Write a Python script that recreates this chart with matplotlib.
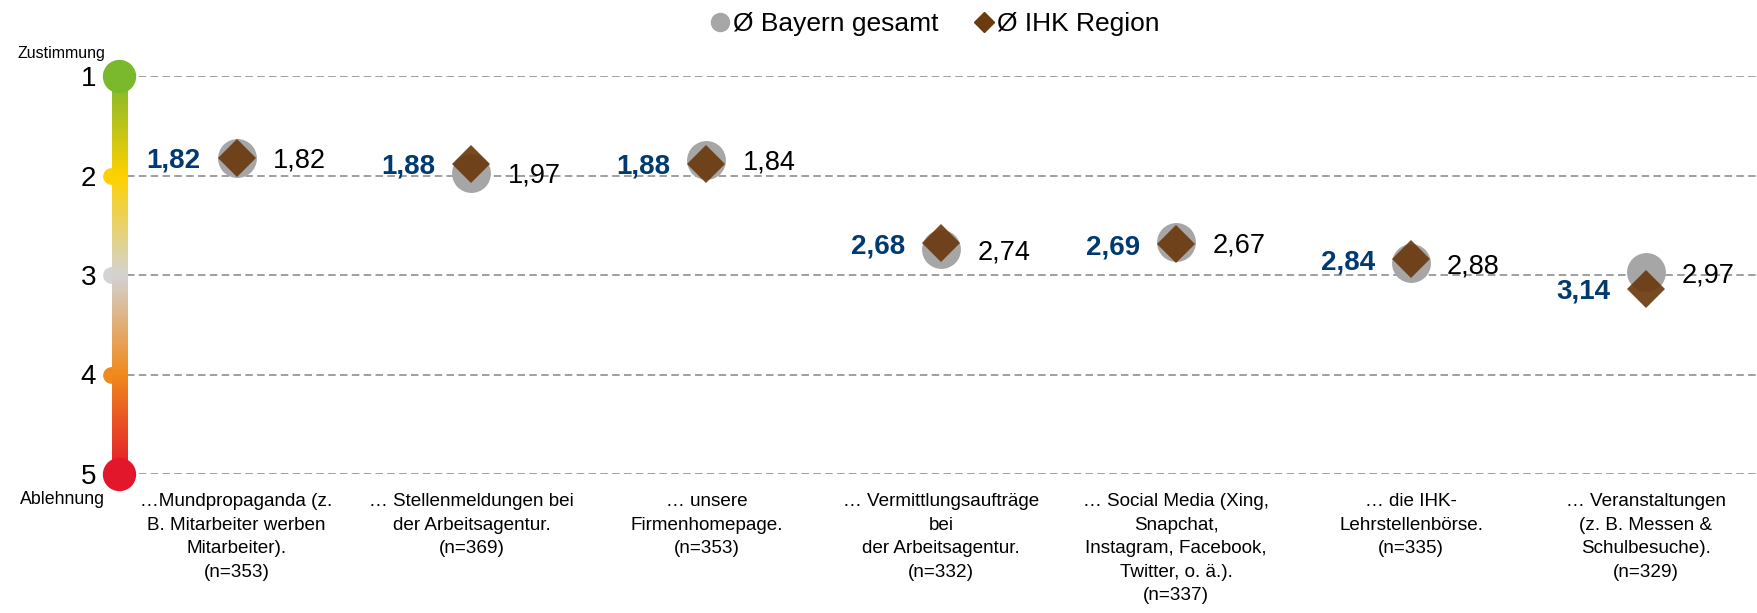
import numpy as np
import matplotlib.pyplot as plt
from matplotlib.colors import LinearSegmentedColormap
from matplotlib.lines import Line2D

plt.rcParams['font.family'] = ['Liberation Sans', 'DejaVu Sans']

categories = [
    "…Mundpropaganda (z.\nB. Mitarbeiter werben\nMitarbeiter).\n(n=353)",
    "… Stellenmeldungen bei\nder Arbeitsagentur.\n(n=369)",
    "… unsere\nFirmenhomepage.\n(n=353)",
    "… Vermittlungsaufträge\nbei\nder Arbeitsagentur.\n(n=332)",
    "… Social Media (Xing,\nSnapchat,\nInstagram, Facebook,\nTwitter, o. ä.).\n(n=337)",
    "… die IHK-\nLehrstellenbörse.\n(n=335)",
    "… Veranstaltungen\n(z. B. Messen &\nSchulbesuche).\n(n=329)",
]
bayern = [1.82, 1.97, 1.84, 2.74, 2.67, 2.88, 2.97]
ihk = [1.82, 1.88, 1.88, 2.68, 2.69, 2.84, 3.14]
scale_ticks = [1, 2, 3, 4, 5]

W, H = 1758, 613
fig = plt.figure(figsize=(W / 100, H / 100), dpi=100)
ax = fig.add_axes([0, (H - 474) / H, 1, (474 - 76) / H])

x0, dx = 236.6, 234.9
xmin, xmax = -x0 / dx, (W - x0) / dx
ax.set_xlim(xmin, xmax)
ax.set_ylim(5, 1)


def px(p):
    # figure pixel -> data x
    return xmin + (xmax - xmin) * p / W


for s in ax.spines.values():
    s.set_visible(False)
ax.set_yticks([])

# dashed grid lines
ax.hlines(scale_ticks, px(127), xmax, colors='#8f8f8f', linewidth=1.2,
          linestyles=(0, (4.5, 2.6)), zorder=1)

# gradient bar
cmap = LinearSegmentedColormap.from_list('scale', [
    (0.0, '#7ab82e'), (0.25, '#ffd100'), (0.5, '#d3d3d3'),
    (0.75, '#f08a1c'), (1.0, '#e3172c')])
grad = np.linspace(0, 1, 256).reshape(-1, 1)
ax.imshow(grad, cmap=cmap, aspect='auto', origin='upper',
          extent=[px(111.5), px(127), 5, 1], zorder=2, clip_on=False)
ax.set_xlim(xmin, xmax)
ax.set_ylim(5, 1)

ax.plot([px(119.3)], [1], 'o', ms=23, color='#7ab82e', zorder=3, clip_on=False)
ax.plot([px(119.3)], [5], 'o', ms=23, color='#e3172c', zorder=3, clip_on=False)
for v, c in zip([2, 3, 4], ['#ffd100', '#d3d3d3', '#f08a1c']):
    ax.plot([px(111)], [v], 'o', ms=11, color=c, zorder=1.5, clip_on=False)

for v in scale_ticks:
    ax.text(px(96), v, str(v), ha='right', va='center_baseline', fontsize=20)
ax.text(px(61), 0.77, "Zustimmung", ha='center', va='center', fontsize=11.5)
ax.text(px(62), 5.26, "Ablehnung", ha='center', va='center', fontsize=12.8)

# markers
x = np.arange(len(categories))
ax.plot(x, bayern, 'o', ms=28, color='#a6a6a6', zorder=4, linestyle='none',
        markeredgewidth=0)
ax.plot(x, ihk, 'D', ms=19.5, color='#6b3a0f', alpha=0.92, zorder=5,
        linestyle='none', markeredgewidth=0)

off = 36 / dx
for i in range(len(categories)):
    ax.text(i - off, ihk[i], f"{ihk[i]:.2f}".replace('.', ','), ha='right',
            va='center_baseline', fontsize=20, fontweight='bold', color='#003a70')
    ax.text(i + off, bayern[i], f"{bayern[i]:.2f}".replace('.', ','), ha='left',
            va='center_baseline', fontsize=19.5, color='black')

ax.set_xticks(x)
ax.set_xticklabels(categories, fontsize=13.6, linespacing=1.5)
ax.tick_params(axis='x', length=0, pad=14)

handles = [
    Line2D([], [], marker='o', color='#a6a6a6', linestyle='none', ms=13),
    Line2D([], [], marker='D', color='#6b3a0f', linestyle='none', ms=10.5),
]
fig.legend(handles, ["Ø Bayern gesamt", "Ø IHK Region"], loc='center',
           bbox_to_anchor=(933 / W, 1 - 24 / H), ncol=2, frameon=False,
           fontsize=19, handletextpad=0.0, columnspacing=1.2, handlelength=1.0)

fig.savefig("out.png", dpi=100)
